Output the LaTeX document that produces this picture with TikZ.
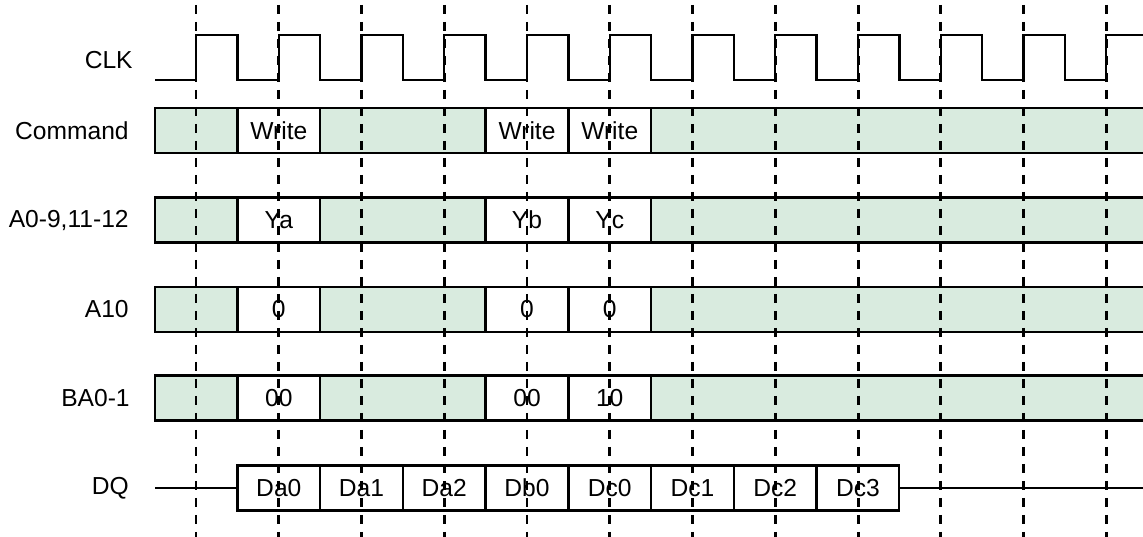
\documentclass[tikz,border=0pt]{standalone}
\usepackage{fontspec}
\setmainfont{Liberation Sans}
\usetikzlibrary{positioning}
\definecolor{bandgreen}{RGB}{217,235,223}

\begin{document}
\begin{tikzpicture}[x=0.02cm, y=-0.02cm, font=\fontsize{14}{16}\selectfont,
    siglabel/.style={anchor=east, inner sep=0pt},
    cellbox/.style={rectangle, draw=black, fill=white, line width=1.3pt, minimum width=1.655cm, minimum height=0.9cm, inner sep=0pt, outer sep=0pt},
    sigline/.style={line width=1.3pt, line join=miter},
    gridline/.style={line width=1.7pt, dash pattern=on 0.19cm off 0.15cm}]
  \useasboundingbox (0,0) rectangle (1143,537);

  % signal names
  \node [siglabel] (lclk) at (133,60) {CLK};
  \node [siglabel] (lcmd) at (129,130.5) {Command};
  \node [siglabel] (laddr) at (129,220) {A0-9,11-12};
  \node [siglabel] (la10) at (129,309.5) {A10};
  \node [siglabel] (lbank) at (130,398) {BA0-1};
  \node [siglabel] (ldq) at (129,488) {DQ};

  % green bands (don't care)
  \foreach \y in {130.5, 220, 309.5, 398} {
    \fill [bandgreen] (155,\y-22.5) rectangle (1145,\y+22.5);
    \draw [sigline] (1145,\y-22.5) -- (155,\y-22.5) -- (155,\y+22.5) -- (1145,\y+22.5);
  }

  % clock
  \draw [sigline] (155,80) -- (196,80)
    \foreach \k in {0,...,10} { -- ++(0,-45) -- ++(41.375,0) -- ++(0,45) -- ++(41.375,0) }
    -- ++(0,-45) -- (1145,35);

  % command
  \node [cellbox] (cmd1) at (278.8,130.5) {Write};
  \node [cellbox] (cmd2) at (527,130.5) {Write};
  \node [cellbox, right=0pt of cmd2] (cmd3) {Write};

  % address
  \node [cellbox] (addr1) at (278.8,220) {Ya};
  \node [cellbox] (addr2) at (527,220) {Yb};
  \node [cellbox, right=0pt of addr2] (addr3) {Yc};

  % auto precharge
  \node [cellbox] (ap1) at (278.8,309.5) {0};
  \node [cellbox] (ap2) at (527,309.5) {0};
  \node [cellbox, right=0pt of ap2] (ap3) {0};

  % bank
  \node [cellbox] (bank1) at (278.8,398) {00};
  \node [cellbox] (bank2) at (527,398) {00};
  \node [cellbox, right=0pt of bank2] (bank3) {10};

  % data
  \node [cellbox] (da0) at (278.8,488) {Da0};
  \node [cellbox, right=0pt of da0] (da1) {Da1};
  \node [cellbox, right=0pt of da1] (da2) {Da2};
  \node [cellbox, right=0pt of da2] (db0) {Db0};
  \node [cellbox, right=0pt of db0] (dc0) {Dc0};
  \node [cellbox, right=0pt of dc0] (dc1) {Dc1};
  \node [cellbox, right=0pt of dc1] (dc2) {Dc2};
  \node [cellbox, right=0pt of dc2] (dc3) {Dc3};

  \coordinate (dqin) at (155,488);
  \coordinate (dqout) at (1145,488);
  \draw [sigline] (dqin) -- (da0);
  \draw [sigline] (dc3) -- (dqout);

  % clock edges
  \foreach \k in {0,...,11}
    \draw [gridline] (196+82.75*\k,5) -- (196+82.75*\k,537);
\end{tikzpicture}
\end{document}
